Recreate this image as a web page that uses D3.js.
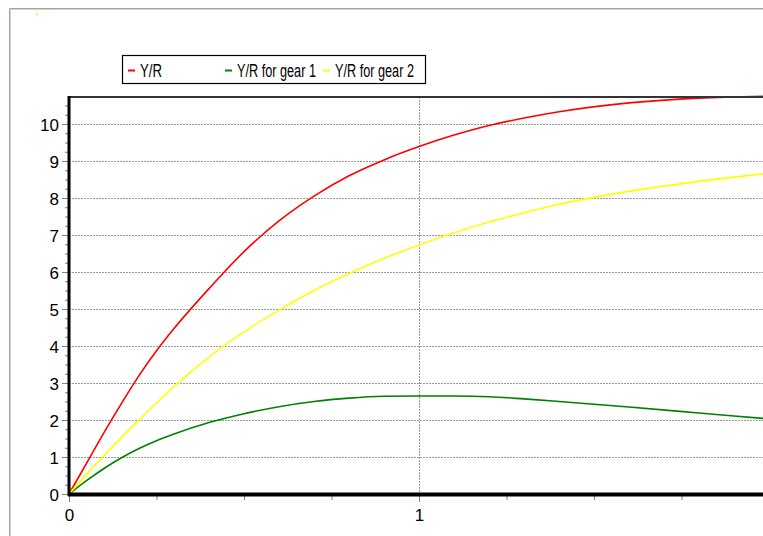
<!DOCTYPE html>
<html lang="en">
<head>
<meta charset="utf-8">
<title>Y/R</title>
<style>
  body { margin: 0; background: #fff; }
  svg { display: block; font-family: "Liberation Sans", Arial, sans-serif; }
  .tick text { font-size: 17px; fill: #000; }
</style>
</head>
<body>
<svg width="763" height="536"></svg>
<script src="https://d3js.org/d3.v7.min.js"></script>
<script>
// values (x = fishing mortality)
var xValues   = [0, 0.05, 0.1, 0.15, 0.2, 0.25, 0.3, 0.4, 0.5, 0.6, 0.7, 0.8, 0.9, 1.0, 1.1, 1.2, 1.3, 1.4, 1.6, 1.8, 2.0];
var yrTotal   = [0, 0.83, 1.66, 2.45, 3.2, 3.87, 4.47, 5.55, 6.55, 7.38, 8.05, 8.6, 9.03, 9.39, 9.7, 9.96, 10.16, 10.33, 10.57, 10.7, 10.75];
var yrGear1   = [0, 0.36, 0.69, 0.98, 1.23, 1.44, 1.62, 1.93, 2.17, 2.36, 2.5, 2.59, 2.64, 2.65, 2.65, 2.63, 2.57, 2.5, 2.35, 2.19, 2.03];
var yrGear2   = [0, 0.53, 1.04, 1.53, 2.0, 2.46, 2.9, 3.7, 4.38, 4.97, 5.5, 5.96, 6.37, 6.73, 7.06, 7.35, 7.6, 7.83, 8.18, 8.45, 8.67];
var seriesNames = ["Y/R", "Y/R for gear 1", "Y/R for gear 2"];
var seriesColors = ["#ff0000", "#008000", "#ffff00"];
var yTicks = [0, 1, 2, 3, 4, 5, 6, 7, 8, 9, 10];
var xTicks = [0, 1];

var svg = d3.select("svg");

var plotLeft = 69, plotTop = 97, plotBottom = 494;
var x = d3.scaleLinear().domain([0, 2]).range([plotLeft, plotLeft + 700]);
var y = d3.scaleLinear().domain([0, 10.73]).range([plotBottom, plotTop]);

// outer frame (goes off the page right and bottom)
svg.append("path").attr("d", "M9.5,540V8.5H770").attr("fill", "none").attr("stroke", "#a8a498").attr("stroke-width", 1);
svg.append("path").attr("d", "M10.5,540V9.5H770").attr("fill", "none").attr("stroke", "#d6d2ca").attr("stroke-width", 1);
svg.append("rect").attr("x", 36).attr("y", 13).attr("width", 2).attr("height", 2).attr("fill", "#ffff00");

// grid
var g = svg.append("g");
g.selectAll(".hgrid")
  .data(yTicks.filter(function(d) { return d > 0; }))
  .enter().append("line")
  .attr("x1", plotLeft).attr("x2", 763)
  .attr("y1", function(d) { return Math.round(y(d)) + 0.5; })
  .attr("y2", function(d) { return Math.round(y(d)) + 0.5; })
  .attr("stroke", "#999").attr("stroke-dasharray", "2,1");
g.selectAll(".vgrid")
  .data(xTicks.filter(function(d) { return d > 0; }))
  .enter().append("line")
  .attr("x1", function(d) { return Math.round(x(d)) + 0.5; })
  .attr("x2", function(d) { return Math.round(x(d)) + 0.5; })
  .attr("y1", plotTop).attr("y2", plotBottom + 8)
  .attr("stroke", "#999").attr("stroke-dasharray", "2,1");

// minor ticks
var yMinor = d3.range(0, 10.75, 0.25);
var xMinor = d3.range(0, 2.01, 0.25);
svg.append("g").attr("transform", "translate(" + plotLeft + ",0)")
  .call(d3.axisLeft(y).tickValues(yMinor).tickSize(4).tickFormat(""))
  .call(function(a) { a.select(".domain").remove(); a.selectAll("line").attr("stroke", "#808080"); });
svg.append("g").attr("transform", "translate(0," + (plotBottom + 1) + ")")
  .call(d3.axisBottom(x).tickValues(xMinor).tickSize(5).tickFormat(""))
  .call(function(a) { a.select(".domain").remove(); a.selectAll("line").attr("stroke", "#808080"); });

// major ticks + labels
svg.append("g").attr("transform", "translate(" + plotLeft + ",0)")
  .call(d3.axisLeft(y).tickValues(yTicks).tickSize(7).tickPadding(3).tickFormat(d3.format("d")))
  .call(function(a) {
    a.select(".domain").remove();
    a.selectAll("line").attr("stroke", "#808080");
    a.selectAll("text").attr("dy", "0.37em");
  });
svg.append("g").attr("transform", "translate(0," + (plotBottom + 1) + ")")
  .call(d3.axisBottom(x).tickValues(xTicks).tickSize(7).tickPadding(7).tickFormat(d3.format("d")))
  .call(function(a) {
    a.select(".domain").remove();
    a.selectAll("line").attr("stroke", "#808080");
  });

// curves
var line = d3.line()
  .x(function(d) { return x(d[0]); })
  .y(function(d) { return y(d[1]); })
  .curve(d3.curveMonotoneX);
[yrTotal, yrGear1, yrGear2].forEach(function(vals, i) {
  svg.append("path")
    .datum(xValues.map(function(v, j) { return [v, vals[j]]; }))
    .attr("fill", "none")
    .attr("stroke", seriesColors[i])
    .attr("stroke-width", 1.6)
    .attr("d", line);
});

// frame of plot
svg.append("line").attr("x1", plotLeft).attr("x2", 763).attr("y1", plotTop).attr("y2", plotTop)
  .attr("stroke", "#333").attr("stroke-width", 2);
svg.append("line").attr("x1", plotLeft).attr("x2", plotLeft).attr("y1", plotTop - 1).attr("y2", plotBottom + 2)
  .attr("stroke", "#000").attr("stroke-width", 3);
svg.append("line").attr("x1", plotLeft - 1).attr("x2", 763).attr("y1", plotBottom + 0.5).attr("y2", plotBottom + 0.5)
  .attr("stroke", "#000").attr("stroke-width", 4);

// legend (text is narrow in the original, so squeeze it horizontally)
var legend = svg.append("g");
legend.append("rect").attr("x", 122.5).attr("y", 55.5).attr("width", 303).attr("height", 28)
  .attr("fill", "#fff").attr("stroke", "#000").attr("stroke-width", 1.2);
var legendX = [128, 225, 323];
var legendW = [22, 79, 79];
seriesNames.forEach(function(name, i) {
  legend.append("line").attr("x1", legendX[i]).attr("x2", legendX[i] + 7)
    .attr("y1", 70.5).attr("y2", 70.5).attr("stroke", seriesColors[i]).attr("stroke-width", 2);
  var tg = legend.append("g");
  var t = tg.append("text").attr("font-size", 18).text(name);
  var sx = legendW[i] / t.node().getComputedTextLength();
  tg.attr("transform", "translate(" + (legendX[i] + 12) + ",76.5) scale(" + sx + ",1)");
});
</script>
</body>
</html>
